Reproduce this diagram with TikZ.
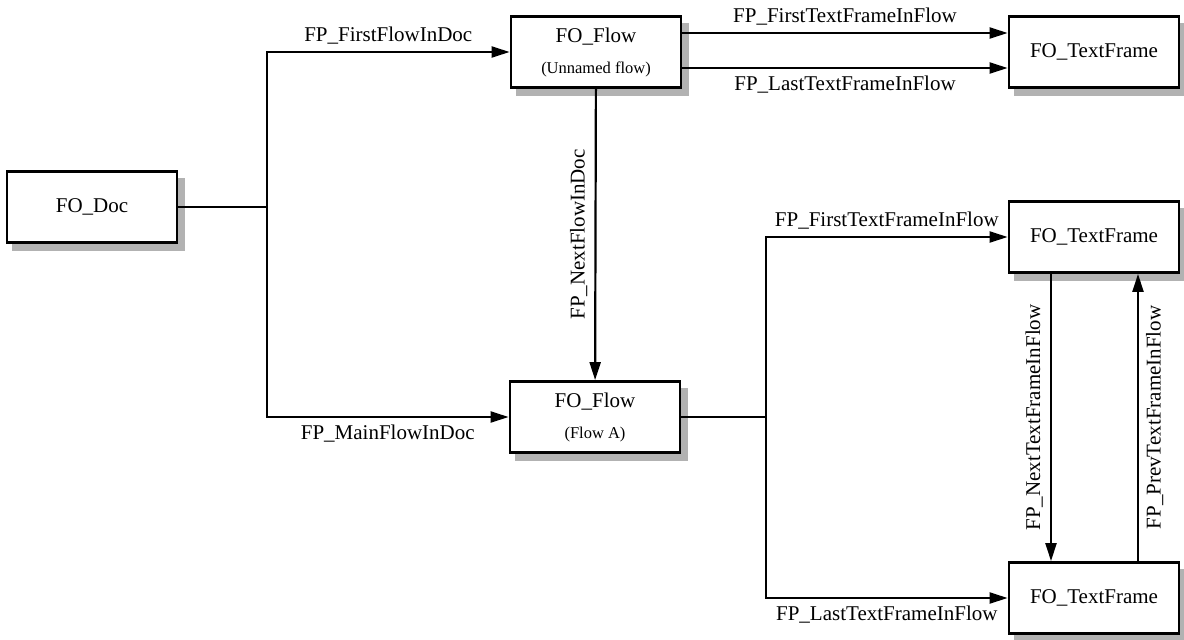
\documentclass[tikz,border=0pt]{standalone}
\usepackage{fontspec}
\setmainfont{Liberation Serif}
\usetikzlibrary{arrows.meta, shadows}

\newcommand{\subfont}{\fontsize{16.5}{20}\selectfont}

\begin{document}
\begin{tikzpicture}[
    x=1pt, y=-1pt,
    font=\fontsize{21}{25}\selectfont,
    objnode/.style={rectangle, draw=black, line width=2.8pt, fill=white, minimum width=170pt, minimum height=71pt, align=center, inner sep=2pt,
        general shadow={fill=black!30, draw=black!30, line width=2.8pt, shadow xshift=6.5pt, shadow yshift=-7.5pt}},
    refline/.style={line width=2.2pt},
    refarrow/.style={line width=2.2pt, -{Triangle[length=18pt, width=11pt]}},
    reflabel/.style={inner sep=7pt},
]

    \useasboundingbox (0, 0) rectangle (1184, 640);

    % document and flow objects
    \node at (92, 207) [objnode] (doc){FO\_Doc};
    \node at (596, 52) [objnode] (flowU){FO\_Flow\\[6pt]{\subfont (Unnamed flow)}};
    \node at (595, 417) [objnode] (flowA){FO\_Flow\\[6pt]{\subfont (Flow A)}};

    % text frame objects
    \foreach \name/\posY in {tfTop/52, tfMid/237, tfBot/598}
    {
        \node at (1094, \posY) [objnode] (\name){FO\_TextFrame};
    }

    % branch points of the forked lines
    \coordinate (docjoint) at (267, 207);
    \coordinate (flowjoint) at (766, 417);

    % doc to its flows
    \draw [refline] (doc) -- (docjoint);
    \draw [refarrow] (docjoint) |- (flowU) node [reflabel, pos=0.75, above] {FP\_FirstFlowInDoc};
    \draw [refarrow] (docjoint) |- (flowA) node [reflabel, pos=0.75, below] {FP\_MainFlowInDoc};
    \draw [refarrow] (flowU) -- (flowA) node [reflabel, midway, rotate=90, anchor=south] {FP\_NextFlowInDoc};

    % unnamed flow to its text frame
    \draw [refarrow] ([yshift=19pt]flowU.east) -- ([yshift=19pt]tfTop.west) node [reflabel, midway, above] {FP\_FirstTextFrameInFlow};
    \draw [refarrow] ([yshift=-16pt]flowU.east) -- ([yshift=-16pt]tfTop.west) node [reflabel, midway, below] {FP\_LastTextFrameInFlow};

    % flow A to its text frames
    \draw [refline] (flowA) -- (flowjoint);
    \draw [refarrow] (flowjoint) |- (tfMid) node [reflabel, pos=0.75, above] {FP\_FirstTextFrameInFlow};
    \draw [refarrow] (flowjoint) |- (tfBot) node [reflabel, pos=0.75, below] {FP\_LastTextFrameInFlow};

    % chain between the text frames
    \draw [refarrow] ([xshift=-43pt]tfMid.south) -- ([xshift=-43pt]tfBot.north) node [reflabel, midway, rotate=90, anchor=south] {FP\_NextTextFrameInFlow};
    \draw [refarrow] ([xshift=44pt]tfBot.north) -- ([xshift=44pt]tfMid.south) node [reflabel, midway, rotate=90, anchor=north] {FP\_PrevTextFrameInFlow};

\end{tikzpicture}
\end{document}
